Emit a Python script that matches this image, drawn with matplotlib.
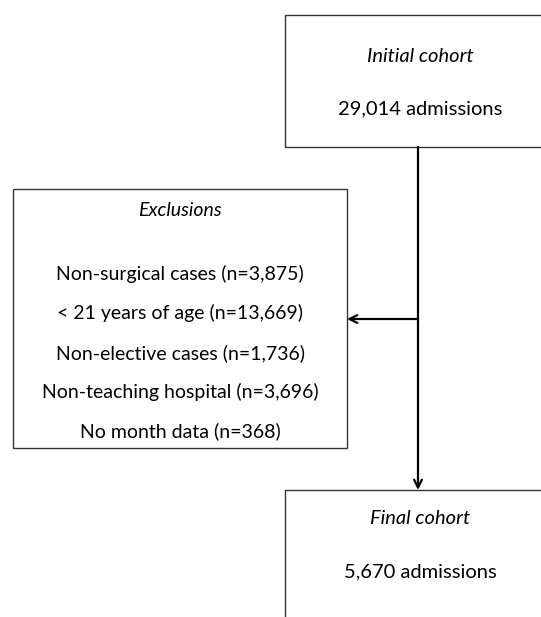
import matplotlib
matplotlib.use("Agg")
import matplotlib.pyplot as plt
from matplotlib.patches import Rectangle

plt.rcParams['font.family'] = ['Lato', 'DejaVu Sans']

# flowchart content
initial_title = "Initial cohort"
initial_count = "29,014 admissions"
excl_title = "Exclusions"
excl_items = ["Non-surgical cases (n=3,875)",
              "< 21 years of age (n=13,669)",
              "Non-elective cases (n=1,736)",
              "Non-teaching hospital (n=3,696)",
              "No month data (n=368)"]
final_title = "Final cohort"
final_count = "5,670 admissions"

fig = plt.figure(figsize=(5.41, 6.17), dpi=100)
ax = fig.add_axes([0, 0, 1, 1])
ax.set_xlim(0, 541)
ax.set_ylim(617, 0)
ax.axis('off')

fs = 14
edge = '#333333'

# top box (runs off the right edge)
ax.add_patch(Rectangle((285, 15), 270, 132, fill=False, ec=edge, lw=1.0, clip_on=True))
ax.text(420, 57, initial_title, ha='center', va='center', fontsize=fs + 0.5, style='italic')
ax.text(420, 109, initial_count, ha='center', va='center', fontsize=fs + 0.5)

# exclusions box
ax.add_patch(Rectangle((13, 189), 334, 259, fill=False, ec=edge, lw=1.0))
ax.text(180, 211, excl_title, ha='center', va='center', fontsize=fs, style='italic')
ys = [274, 313, 353, 392, 431]
for y, s in zip(ys, excl_items):
    ax.text(180, y, s, ha='center', va='center', fontsize=fs)

# final box (runs off the bottom)
ax.add_patch(Rectangle((285, 490), 270, 140, fill=False, ec=edge, lw=1.0))
ax.text(420, 519, final_title, ha='center', va='center', fontsize=fs + 0.5, style='italic')
ax.text(420, 572, final_count, ha='center', va='center', fontsize=fs + 0.5)

# connectors
ax.annotate('', xy=(418, 490), xytext=(418, 147),
            arrowprops=dict(arrowstyle='->', lw=1.6, color='black', shrinkA=0, shrinkB=0,
                            mutation_scale=14))
ax.annotate('', xy=(347, 319), xytext=(418, 319),
            arrowprops=dict(arrowstyle='->', lw=1.6, color='black', shrinkA=0, shrinkB=0,
                            mutation_scale=14))

fig.savefig('out.png', dpi=100)
